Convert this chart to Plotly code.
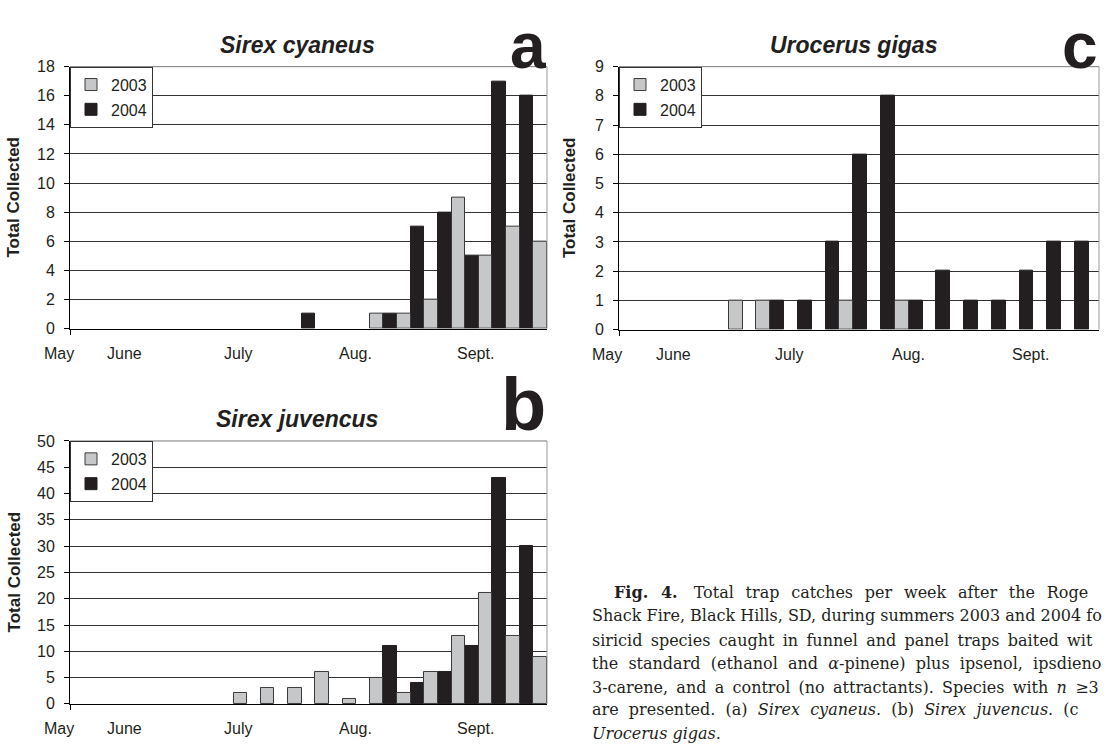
import plotly.graph_objects as go

# ---------------- data ----------------
week = [0, 1, 2, 3, 4, 5, 6, 7, 8, 9, 10, 11, 12, 13, 14, 15, 16]

sc_2003 = [0, 0, 0, 0, 0, 0, 0, 0, 0, 0, 1, 1, 2, 9, 5, 7, 6]
sc_2004 = [0, 0, 0, 0, 0, 0, 0, 0, 1, 0, 0, 1, 7, 8, 5, 17, 16]

sj_2003 = [0, 0, 0, 0, 0, 2, 3, 3, 6, 1, 5, 2, 6, 13, 21, 13, 9]
sj_2004 = [0, 0, 0, 0, 0, 0, 0, 0, 0, 0, 0, 11, 4, 6, 11, 43, 30]

ug_2003 = [0, 0, 0, 1, 1, 0, 0, 1, 0, 1, 0, 0, 0, 0, 0, 0, 0]
ug_2004 = [0, 0, 0, 0, 0, 1, 1, 3, 6, 8, 1, 2, 1, 1, 2, 3, 3]

month_labels = ["May", "June", "July", "Aug.", "Sept."]
month_pos = [-1.4, 1.0, 5.17, 9.48, 13.89]

# caption, as visible in the reference (the page cuts it at the right edge)
caption_lines = [
    "<b>Fig. 4.</b>\u2002\u2002Total trap catches per week after the Roge",
    "Shack Fire, Black Hills, SD, during summers 2003 and 2004 fo",
    "siricid species caught in funnel and panel traps baited wit",
    "the standard (ethanol and <i>α</i>-pinene) plus ipsenol, ipsdieno",
    "3-carene, and a control (no attractants). Species with <i>n</i> ≥3",
    "are presented. (a) <i>Sirex cyaneus</i>. (b) <i>Sirex juvencus</i>. (c",
    "<i>Urocerus gigas</i>.",
]

# ---------------- style ----------------
W, H = 1107, 751
SANS = "Liberation Sans, Arial, sans-serif"
SERIF = "DejaVu Serif, serif"
BLACK = "#231f20"
GRAY = "#c6c7c9"
TXT = "#231f20"

# extra word spacing per caption line (to imitate the justified column)
cap_fill = ["\u00a0\u200a", "", "\u2009", "\u00a0", "\u2009", "\u00a0", ""]
cap_y = [598, 622, 647, 671, 695, 718, 742]

panels = [
    dict(letter="a", title="Sirex cyaneus", v03=sc_2003, v04=sc_2004, xa="x", ya="y",
         lg="legend", ymax=18, dtick=2,
         xdom=(70, 547), ydom=(60, 328), xr=(-1.0, 16.5), tshift=0.476, ytshift=-56),
    dict(letter="b", title="Sirex juvencus", v03=sj_2003, v04=sj_2004, xa="x2", ya="y2",
         lg="legend2", ymax=50, dtick=5,
         xdom=(70, 547), ydom=(443, 712), xr=(-1.0, 16.5), tshift=0.476, ytshift=-56),
    dict(letter="c", title="Urocerus gigas", v03=ug_2003, v04=ug_2004, xa="x3", ya="y3",
         lg="legend3", ymax=9, dtick=1,
         xdom=(619, 1099), ydom=(60, 329), xr=(-0.96, 16.37), tshift=0.488, ytshift=-50),
]


def nz(vals):
    # zero weeks draw no bar at all
    return [v if v else None for v in vals]


fig = go.Figure()
layout = dict(
    width=W, height=H, margin=dict(l=0, r=0, t=0, b=0),
    paper_bgcolor="white", plot_bgcolor="white",
    barmode="group", bargap=0, bargroupgap=0,
    font=dict(family=SANS, color=TXT),
)
annotations = []
shapes = []

for p in panels:
    fig.add_trace(go.Bar(
        x=week, y=nz(p["v04"]), name="2004", xaxis=p["xa"], yaxis=p["ya"],
        legend=p["lg"], legendgroup=p["letter"] + "04", legendrank=2,
        marker=dict(color=BLACK, line=dict(color=BLACK, width=1)),
    ))
    fig.add_trace(go.Bar(
        x=week, y=nz(p["v03"]), name="2003", xaxis=p["xa"], yaxis=p["ya"],
        legend=p["lg"], legendgroup=p["letter"] + "03", legendrank=1,
        marker=dict(color=GRAY, line=dict(color="#3a3a3a", width=1)),
    ))

    xk = "xaxis" + p["xa"][1:]
    yk = "yaxis" + p["ya"][1:]
    r0, r1 = p["xr"]
    layout[xk] = dict(
        domain=[p["xdom"][0] / W, p["xdom"][1] / W], range=[r0, r1],
        anchor=p["ya"], showline=True, linecolor="black", linewidth=1.3,
        showgrid=False, zeroline=False, ticks="outside", ticklen=5,
        tickcolor="black", tickvals=[r0 + 0.001], showticklabels=False,
        fixedrange=True,
    )
    layout[yk] = dict(
        domain=[1 - p["ydom"][1] / H, 1 - p["ydom"][0] / H], range=[0, p["ymax"]],
        anchor=p["xa"], tick0=0, dtick=p["dtick"], showline=True, linecolor="black",
        linewidth=1, showgrid=True, gridcolor="#333333", gridwidth=1, zeroline=False,
        ticks="outside", ticklen=5, tickcolor="black", ticklabelstandoff=6,
        tickfont=dict(size=16, family=SANS, color=TXT), fixedrange=True,
    )
    layout[p["lg"]] = dict(
        x=p["xdom"][0] / W, xanchor="left", y=1 - p["ydom"][0] / H, yanchor="top",
        bgcolor="white", bordercolor="#333333", borderwidth=1,
        font=dict(size=16, family=SANS, color=TXT),
        traceorder="grouped", tracegroupgap=1,
    )
    dref_x = p["xa"] + " domain"
    dref_y = p["ya"] + " domain"
    # grey top and right edges of the plot frame
    shapes.append(dict(type="line", xref=dref_x, yref=dref_y, x0=0, x1=1, y0=1, y1=1,
                       line=dict(color="#7a7a7a", width=1), layer="above"))
    shapes.append(dict(type="line", xref=dref_x, yref=dref_y, x0=1, x1=1, y0=0, y1=1,
                       line=dict(color="#9a9a9a", width=1), layer="above"))
    # title
    annotations.append(dict(text="<b><i>" + p["title"] + "</i></b>", xref=dref_x, yref=dref_y,
                            x=p["tshift"], y=1, xanchor="center", yanchor="middle", yshift=22,
                            showarrow=False, font=dict(size=23, family=SANS, color=TXT)))
    # panel letter
    if p["letter"] == "b":
        annotations.append(dict(text="<b>b</b>", xref=dref_x, yref=dref_y,
                                x=1, y=1, xanchor="right", yanchor="middle", yshift=36, xshift=1,
                                showarrow=False, font=dict(size=74, family=SANS, color=TXT)))
    else:
        annotations.append(dict(text="<b>" + p["letter"] + "</b>", xref=dref_x, yref="paper",
                                x=1, y=1, xanchor="right", yanchor="top", xshift=1,
                                showarrow=False, font=dict(size=64, family=SANS, color=TXT)))
    # y-axis title
    annotations.append(dict(text="<b>Total Collected</b>", xref=dref_x, yref=dref_y,
                            x=0, y=0.5, xshift=p["ytshift"], textangle=-90,
                            xanchor="center", yanchor="middle", showarrow=False,
                            font=dict(size=17, family=SANS, color=TXT)))
    # month labels (placed along the category scale of this panel)
    for lab, pos in zip(month_labels, month_pos):
        annotations.append(dict(text=lab, xref=dref_x, yref=dref_y, x=(pos - r0) / (r1 - r0),
                                y=0, xanchor="center", yanchor="middle", yshift=-25,
                                showarrow=False, font=dict(size=16, family=SANS, color=TXT)))

# caption
for i, (line, yy) in enumerate(zip(caption_lines, cap_y)):
    txt = line.replace(" ", " " + cap_fill[i]) if cap_fill[i] else line
    annotations.append(dict(text=txt, xref="paper", yref="paper",
                            x=(612 if i == 0 else 590) / W, y=1 - yy / H,
                            xanchor="left", yanchor="middle", showarrow=False,
                            font=dict(size=16, family=SERIF, color=TXT)))

layout["annotations"] = annotations
layout["shapes"] = shapes
fig.update_layout(**layout)
fig.write_html("out.html")
